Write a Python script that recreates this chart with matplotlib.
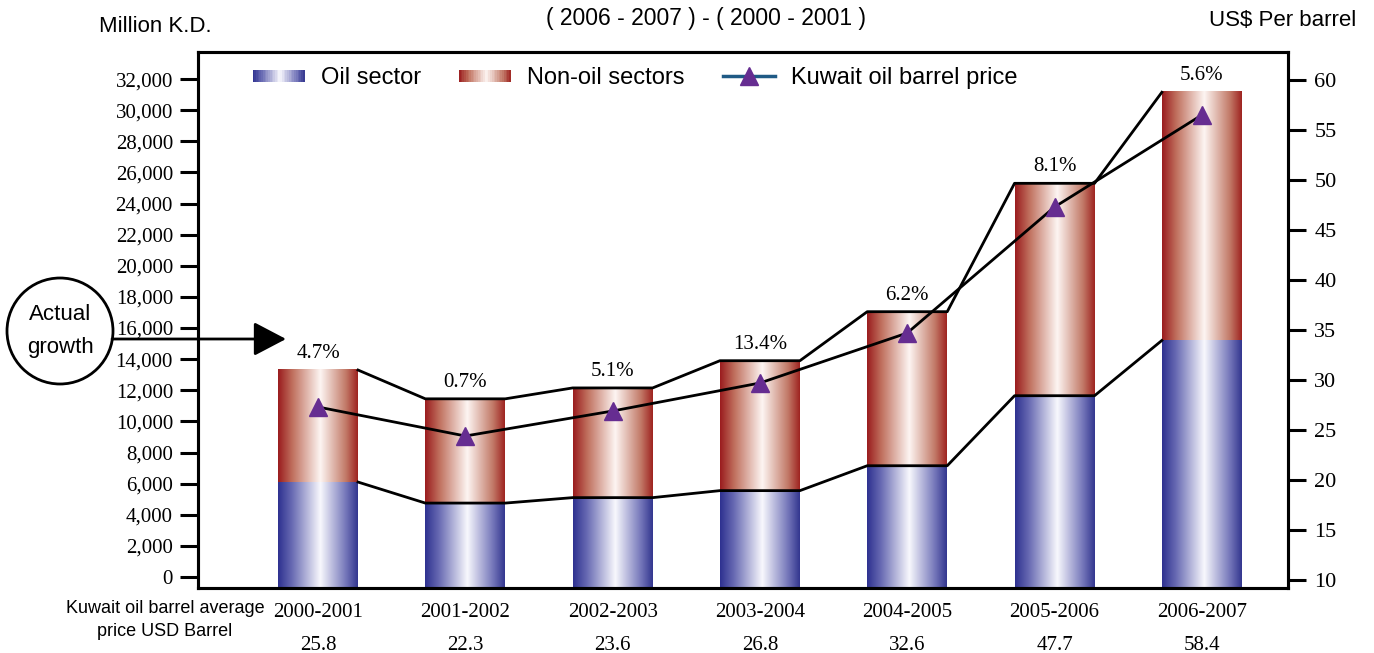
import numpy as np
import matplotlib
matplotlib.use("Agg")
import matplotlib.pyplot as plt
from matplotlib.colors import LinearSegmentedColormap
from matplotlib.patches import Rectangle, Circle, FancyArrowPatch
from matplotlib.legend_handler import HandlerBase
from matplotlib.lines import Line2D
from matplotlib.transforms import IdentityTransform, blended_transform_factory

plt.rcParams['font.family'] = ['Liberation Sans', 'DejaVu Sans']

# data
categories = ['2000-2001', '2001-2002', '2002-2003', '2003-2004',
              '2004-2005', '2005-2006', '2006-2007']
avg_price = ['25.8', '22.3', '23.6', '26.8', '32.6', '47.7', '58.4']
oil = [6100, 4750, 5100, 5550, 7150, 11650, 15200]
non_oil = [7200, 6700, 7050, 8350, 9900, 13650, 15950]
growth = ['4.7%', '0.7%', '5.1%', '13.4%', '6.2%', '8.1%', '5.6%']
price = [27.3, 24.4, 26.9, 29.7, 34.7, 47.3, 56.5]

blue = LinearSegmentedColormap.from_list(
    'oil', [(0, '#2e3190'), (0.18, '#6a6cb4'), (0.53, '#f8f8fd'), (0.85, '#7577ba'), (1, '#33368f')])
red = LinearSegmentedColormap.from_list(
    'nonoil', [(0, '#9a1c1e'), (0.18, '#c0705e'), (0.53, '#fdf5f2'), (0.85, '#c27a68'), (1, '#9e2420')])

serif = 'Liberation Serif'

fig = plt.figure(figsize=(13.74, 6.53), dpi=100)
ax = fig.add_axes([198 / 1374, 1 - 588 / 653, 1090 / 1374, 536 / 653])
ax2 = ax.twinx()

ymin, ymax = -708, 33740
x = np.arange(len(categories))
w = 0.543
oil = np.array(oil)
non_oil = np.array(non_oil)
total = oil + non_oil

# bars sit on the bottom spine, as in the original
b1 = ax.bar(x, oil - ymin, w, bottom=ymin, color='none', edgecolor='none')
b2 = ax.bar(x, non_oil, w, bottom=oil, color='none', edgecolor='none')
grad = np.linspace(0, 1, 256).reshape(1, -1)
for bars, cmap in ((b1, blue), (b2, red)):
    for p in bars:
        x0, y0 = p.get_x(), p.get_y()
        ax.imshow(grad, cmap=cmap, aspect='auto', interpolation='bilinear',
                  extent=[x0, x0 + p.get_width(), y0, y0 + p.get_height()], zorder=1)

# connector lines between bar tops
def connector(vals):
    xs, ys = [], []
    for i, v in enumerate(vals):
        if i > 0:
            xs.append(x[i] - w / 2)
            ys.append(v)
        if i < len(vals) - 1:
            xs.append(x[i] + w / 2)
            ys.append(v)
    ax.plot(xs, ys, color='black', lw=2, zorder=3)

connector(total)
connector(oil)

for xi, t, g in zip(x, total, growth):
    ax.annotate(g, (xi, t), xytext=(0, 12), textcoords='offset points',
                ha='center', va='center', fontsize=15, family=serif)

ax.set_xlim(-0.815, 6.585)
ax.set_ylim(ymin, ymax)
ax.set_yticks(np.arange(0, 32001, 2000))
ax.set_yticklabels([f'{v:,}' for v in range(0, 32001, 2000)], family=serif, fontsize=15)
ax.set_xticks(x)
ax.set_xticklabels(categories, family=serif, fontsize=15)
ax.tick_params(axis='x', length=0, pad=11)
ax.tick_params(axis='y', length=13, width=2.2, pad=5, direction='out')

tr = blended_transform_factory(ax.transData, ax.transAxes)
for xi, pr in zip(x, avg_price):
    ax.text(xi, -0.108, pr, transform=tr, ha='center', va='center', fontsize=15, family=serif)

ax2.plot(x, price, color='black', lw=2, zorder=4)
ax2.plot(x, price, ls='none', marker='^', ms=13, color='#662d91', zorder=5)
ax2.set_ylim(9.2, 62.8)
ax2.set_yticks(np.arange(10, 61, 5))
ax2.set_yticklabels([str(v) for v in range(10, 61, 5)], family=serif, fontsize=16)
ax2.tick_params(axis='y', length=13, width=2.2, pad=6, direction='out')

for a in (ax, ax2):
    for s in a.spines.values():
        s.set_linewidth(2.2)


class HandlerGradient(HandlerBase):
    def __init__(self, cmap):
        super().__init__()
        self.cmap = cmap

    def create_artists(self, legend, orig_handle, xdescent, ydescent, width, height, fontsize, trans):
        n = 30
        arts = []
        for i in range(n):
            r = Rectangle((-xdescent + width * i / n, -ydescent + height * 0.15), width / n * 1.05,
                          height * 0.7, facecolor=self.cmap((i + 0.5) / n), edgecolor='none',
                          transform=trans)
            arts.append(r)
        return arts


h_oil = Rectangle((0, 0), 1, 1)
h_non = Rectangle((0, 0), 1, 1)
h_price = Line2D([], [], color='#1f5a85', lw=2.5, marker='^', ms=13,
                 markerfacecolor='#662d91', markeredgecolor='#662d91')
ax2.legend([h_oil, h_non, h_price], ['Oil sector', 'Non-oil sectors', 'Kuwait oil barrel price'],
           handler_map={h_oil: HandlerGradient(blue), h_non: HandlerGradient(red)},
           loc='upper left', bbox_to_anchor=(0.05, 0.972), ncol=3, frameon=False,
           fontsize=17, handlelength=2.2, handletextpad=0.7, columnspacing=1.6,
           borderpad=0, borderaxespad=0)

# texts around the axes
fig.text(155 / 1374, 1 - 27 / 653, 'Million K.D.', ha='center', va='center', fontsize=16)
fig.text(1283 / 1374, 1 - 20 / 653, 'US$ Per barrel', ha='center', va='center', fontsize=16)
fig.text(706 / 1374, 1 - 18 / 653, '( 2006 - 2007 ) - ( 2000 - 2001 )', ha='center', va='center', fontsize=16.5)
fig.text(165 / 1374, 1 - 620 / 653, 'Kuwait oil barrel average\nprice USD Barrel', ha='center',
         va='center', fontsize=13, linespacing=1.5)

circ = Circle((60, 653 - 331), 53, transform=IdentityTransform(), facecolor='white',
              edgecolor='black', lw=2, zorder=5)
fig.add_artist(circ)
fig.text(60 / 1374, 1 - 314 / 653, 'Actual', ha='center', va='center', fontsize=16, zorder=6)
fig.text(60 / 1374, 1 - 348 / 653, 'growth', ha='center', va='center', fontsize=16, zorder=6)
arrow = FancyArrowPatch((112, 653 - 339), (286, 653 - 339), transform=IdentityTransform(),
                        arrowstyle='-|>,head_length=20,head_width=10.5', color='black',
                        lw=2, mutation_scale=1, shrinkA=0, shrinkB=0, zorder=5)
fig.add_artist(arrow)

fig.savefig('out.png', dpi=100)
